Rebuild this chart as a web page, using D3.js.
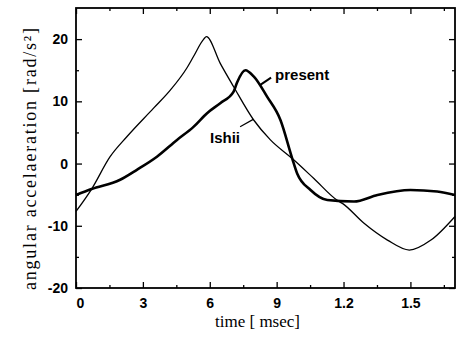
<!DOCTYPE html>
<html>
<head>
<meta charset="utf-8">
<script src="https://cdn.jsdelivr.net/npm/d3@7"></script>
<style>
  body { margin: 0; background: #fff; }
  .tick text { font-family: "Liberation Sans", Arial, sans-serif; font-weight: bold; font-size: 14px; fill: #000; }
  .axis-title { font-family: "Liberation Serif", "Times New Roman", serif; font-size: 18px; fill: #000; }
  .curve-label { font-family: "Liberation Sans", Arial, sans-serif; font-weight: bold; font-size: 15px; fill: #000; }
</style>
</head>
<body>
<div id="chart"></div>
<script>
// time in msec, angular acceleration in rad/s^2
var ishiiTime = [0, 0.07, 0.153, 0.228, 0.348, 0.423, 0.498, 0.527, 0.573, 0.585, 0.647, 0.707, 0.797, 0.872, 0.97, 1.067, 1.172, 1.195, 1.292, 1.397, 1.495, 1.592, 1.7];
var ishiiAccel = [-7.7, -4.1, 1.1, 4.3, 8.9, 11.8, 15.4, 17.2, 20.0, 20.4, 16.1, 12.35, 7.0, 3.8, 0.8, -2.4, -5.9, -6.4, -9.6, -12.3, -13.9, -12.3, -8.5];

var presentTime = [0, 0.07, 0.198, 0.273, 0.363, 0.453, 0.527, 0.588, 0.647, 0.707, 0.722, 0.76, 0.797, 0.857, 0.917, 0.97, 0.992, 1.052, 1.127, 1.247, 1.352, 1.5, 1.62, 1.7];
var presentAccel = [-5.05, -4.1, -2.6, -1.0, 1.1, 3.8, 5.9, 8.1, 9.7, 11.55, 13.0, 15.0, 14.0, 10.75, 7.0, 0.8, -1.6, -4.25, -5.86, -6.1, -5.05, -4.25, -4.5, -5.05];

var xTicks = [0, 0.3, 0.6, 0.9, 1.2, 1.5];
var xTickLabels = ["0", "3", "6", "9", "1.2", "1.5"];
var yTicks = [-20, -10, 0, 10, 20];

var totalWidth = 459, totalHeight = 347;
var margin = {top: 8, right: 4, bottom: 59, left: 76},
    width = totalWidth - margin.left - margin.right,
    height = totalHeight - margin.top - margin.bottom;

var xScale = d3.scaleLinear().domain([0, 1.7]).range([0, width]);
var yScale = d3.scaleLinear().domain([-20, 25]).range([height, 0]);

var svg = d3.select("#chart")
    .append("svg")
    .attr("width", totalWidth)
    .attr("height", totalHeight)
    .append("g")
    .attr("transform", "translate(" + margin.left + "," + margin.top + ")");

// minor ticks on all four sides
var xMinor = d3.range(0.15, 1.7, 0.3);
var yMinor = d3.range(-15, 25, 10);

function addAxes(axisFn, scale, ticks, len, labels, pad, transform) {
    var ax = axisFn(scale).tickValues(ticks).tickSizeInner(-len).tickSizeOuter(0);
    if (labels) {
        ax.tickPadding(pad).tickFormat(function(d, i) { return labels[i]; });
    } else {
        ax.tickFormat("");
    }
    var g = svg.append("g").attr("transform", transform).call(ax);
    g.select(".domain").remove();
    g.selectAll("line").attr("stroke", "#000").attr("stroke-width", 1.3);
    return g;
}

// bottom
var xAxisG = addAxes(d3.axisBottom, xScale, xTicks, 6, xTickLabels, 10, "translate(0," + height + ")");
xAxisG.selectAll(".tick text").filter(function(d) { return d === 0; }).attr("dx", 4);
addAxes(d3.axisBottom, xScale, xMinor, 3, null, 0, "translate(0," + height + ")");
// top
addAxes(d3.axisTop, xScale, xTicks, 6, null, 0, "translate(0,0)");
addAxes(d3.axisTop, xScale, xMinor, 3, null, 0, "translate(0,0)");
// left
addAxes(d3.axisLeft, yScale, yTicks, 6, yTicks.map(String), 8, "translate(0,0)");
addAxes(d3.axisLeft, yScale, yMinor, 3, null, 0, "translate(0,0)");
// right
addAxes(d3.axisRight, yScale, yTicks, 6, null, 0, "translate(" + width + ",0)");
addAxes(d3.axisRight, yScale, yMinor, 3, null, 0, "translate(" + width + ",0)");

// frame
svg.append("rect")
    .attr("x", 0).attr("y", 0)
    .attr("width", width).attr("height", height)
    .attr("fill", "none")
    .attr("stroke", "#000")
    .attr("stroke-width", 1.8);

var line = d3.line()
    .x(function(d) { return xScale(d.x); })
    .y(function(d) { return yScale(d.y); })
    .curve(d3.curveMonotoneX);

function zipSeries(xs, ys) {
    return xs.map(function(x, i) { return {x: x, y: ys[i]}; });
}

svg.append("path")
    .datum(zipSeries(ishiiTime, ishiiAccel))
    .attr("fill", "none")
    .attr("stroke", "#000")
    .attr("stroke-width", 1.3)
    .attr("d", line);

svg.append("path")
    .datum(zipSeries(presentTime, presentAccel))
    .attr("fill", "none")
    .attr("stroke", "#000")
    .attr("stroke-width", 2.6)
    .attr("d", line);

// curve labels with leader lines
svg.append("line")
    .attr("x1", xScale(0.875)).attr("y1", yScale(13.8))
    .attr("x2", xScale(0.825)).attr("y2", yScale(12.6))
    .attr("stroke", "#000").attr("stroke-width", 2);
svg.append("text")
    .attr("class", "curve-label")
    .attr("x", xScale(0.893)).attr("y", yScale(13.35))
    .text("present");

svg.append("line")
    .attr("x1", xScale(0.736)).attr("y1", yScale(5.9))
    .attr("x2", xScale(0.795)).attr("y2", yScale(7.1))
    .attr("stroke", "#000").attr("stroke-width", 1.2);
svg.append("text")
    .attr("class", "curve-label")
    .attr("x", xScale(0.601)).attr("y", yScale(3.25))
    .text("Ishii");

// axis titles
svg.append("text")
    .attr("class", "axis-title")
    .attr("text-anchor", "middle")
    .attr("x", xScale(0.85) - 8)
    .attr("y", height + 39)
    .style("font-size", "17px")
    .text("time [ msec]");

svg.append("text")
    .attr("class", "axis-title")
    .attr("text-anchor", "middle")
    .attr("textLength", 262)
    .attr("lengthAdjust", "spacing")
    .attr("transform", "translate(" + (-margin.left + 36) + "," + (159 - margin.top) + ") rotate(-90)")
    .text("angular accelaeration [rad/s²]");
</script>
</body>
</html>
